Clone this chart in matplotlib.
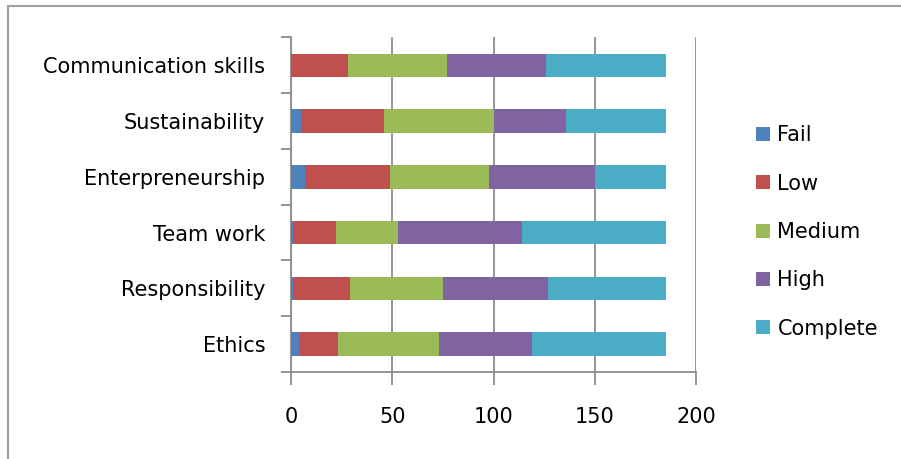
import matplotlib.pyplot as plt
import numpy as np
from matplotlib.lines import Line2D

# categories bottom to top, as Excel draws them
categories = ['Ethics', 'Responsibility', 'Team work', 'Enterpreneurship',
              'Sustainability', 'Communication skills']
fail = [4, 1, 1, 7, 5, 0]
low = [19, 28, 21, 42, 41, 28]
medium = [50, 46, 31, 49, 54, 49]
high = [46, 52, 61, 52, 36, 49]
complete = [66, 58, 71, 35, 49, 59]

series_names = ['Fail', 'Low', 'Medium', 'High', 'Complete']
series = [fail, low, medium, high, complete]
colors = ['#4F81BD', '#C0504D', '#9BBB59', '#8064A2', '#4BACC6']
xticks = [0, 50, 100, 150, 200]

plt.rcParams['font.family'] = 'DejaVu Sans'
grey = '#8c8c8c'
fs = 15

fig = plt.figure(figsize=(9.01, 4.59), dpi=100)
ax = fig.add_axes([0.323, 0.1895, 0.4495, 0.729])

y = np.arange(len(categories))
left = np.zeros(len(categories))
handles = []
for name, vals, col in zip(series_names, series, colors):
    b = ax.barh(y, vals, height=0.42, left=left, color=col, label=name,
                zorder=3)
    left += np.array(vals)
    handles.append(b)

ax.set_xlim(0, 200)
ax.set_ylim(-0.5, len(categories) - 0.5)
ax.set_xticks(xticks)
ax.set_xticklabels([str(t) for t in xticks])
ax.tick_params(axis='x', direction='out', length=9, width=1.3, color=grey,
               pad=16, labelsize=fs)
ax.xaxis.grid(True, color=grey, linewidth=1.3, zorder=0)

# category boundaries get tick marks, names sit at the centres
ax.set_yticks(np.arange(-0.5, len(categories), 1.0))
ax.set_yticklabels([])
ax.set_yticks(y, minor=True)
ax.set_yticklabels(categories, minor=True)
ax.tick_params(axis='y', which='major', direction='out', length=7,
               width=1.3, color=grey)
ax.tick_params(axis='y', which='minor', length=0, pad=18.5, labelsize=fs)

for s in ['top', 'right']:
    ax.spines[s].set_visible(False)
for s in ['left', 'bottom']:
    ax.spines[s].set_color(grey)
    ax.spines[s].set_linewidth(1.3)

ax.legend(handles=handles, loc='upper left', bbox_to_anchor=(0.839, 0.727),
          bbox_transform=fig.transFigure, frameon=False, fontsize=fs,
          handlelength=0.68, handleheight=0.68, handletextpad=0.35,
          labelspacing=1.36, borderpad=0, borderaxespad=0)

# chart area border (only top and left show in the picture)
fig.add_artist(Line2D([0.0085, 0.0085], [0, 0.987], color='#a0a0a0',
                      linewidth=1.5, transform=fig.transFigure))
fig.add_artist(Line2D([0.0085, 1.0], [0.987, 0.987], color='#a0a0a0',
                      linewidth=1.5, transform=fig.transFigure))

fig.savefig('out.png', dpi=100)
